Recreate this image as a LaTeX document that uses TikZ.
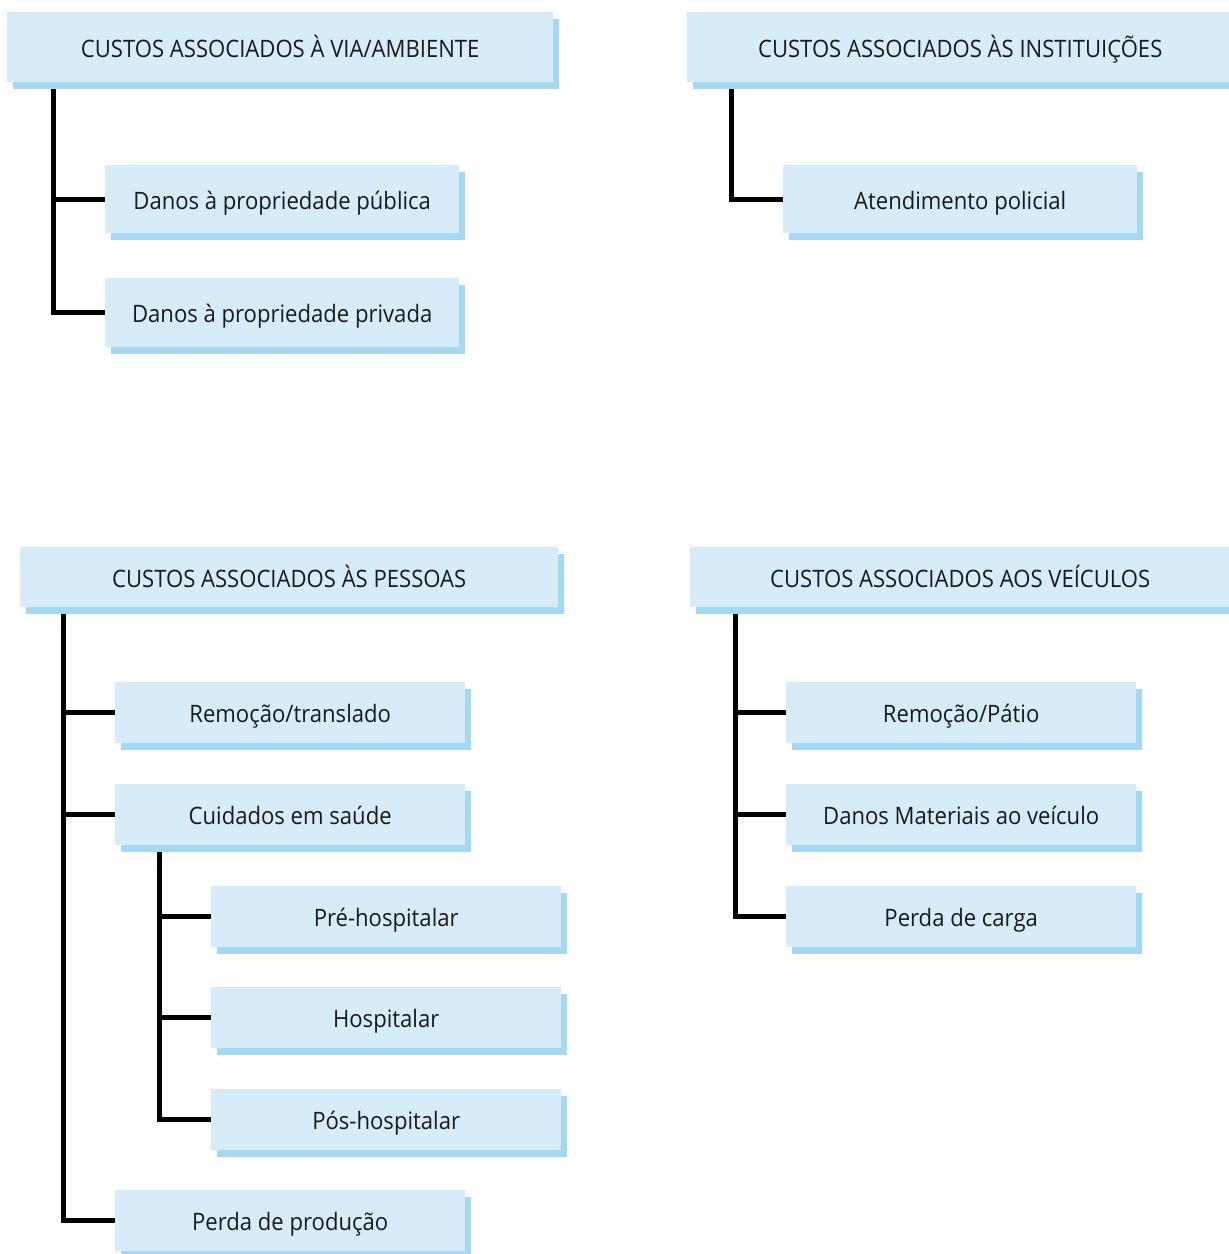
\documentclass[tikz,border=0pt]{standalone}
\usepackage{fontspec}
\setmainfont{Open Sans}[FakeStretch=0.92]
\usetikzlibrary{shadows}
\definecolor{boxfill}{HTML}{D6ECF9}
\definecolor{boxshadow}{HTML}{A4D8F3}
\definecolor{txt}{HTML}{1A1A1A}
\begin{document}
\begin{tikzpicture}[x=1pt,y=-1pt,
  cbox/.style={anchor=north west, fill=boxfill, inner sep=0pt, text=txt,
    font=\fontsize{24}{27}\selectfont, text height=20pt, text depth=0pt,
    drop shadow={shadow xshift=6pt, shadow yshift=-7pt, fill=boxshadow, opacity=1}},
  conn/.style={line width=5pt, draw=black}]
\useasboundingbox (0,0) rectangle (1229,1254);
% top left
\node[cbox, minimum width=546pt, minimum height=70pt] (h1) at (7,12) {CUSTOS ASSOCIADOS À VIA/AMBIENTE};
\node[cbox, minimum width=354pt, minimum height=68pt] (a1) at (105,165) {Danos à propriedade pública};
\node[cbox, minimum width=354pt, minimum height=69pt] (a2) at (105,278) {Danos à propriedade privada};
% top right
\node[cbox, minimum width=546pt, minimum height=70pt] (h2) at (687,12) {CUSTOS ASSOCIADOS ÀS INSTITUIÇÕES};
\node[cbox, minimum width=354pt, minimum height=68pt] (b1) at (783,165) {Atendimento policial};
% bottom left
\node[cbox, minimum width=538pt, minimum height=60pt] (h3) at (20,547) {CUSTOS ASSOCIADOS ÀS PESSOAS};
\node[cbox, minimum width=350pt, minimum height=61pt] (p1) at (115,682) {Remoção/translado};
\node[cbox, minimum width=350pt, minimum height=61pt] (p2) at (115,784) {Cuidados em saúde};
\node[cbox, minimum width=350pt, minimum height=61pt] (s1) at (211,886) {Pré-hospitalar};
\node[cbox, minimum width=350pt, minimum height=61pt] (s2) at (211,987) {Hospitalar};
\node[cbox, minimum width=350pt, minimum height=61pt] (s3) at (211,1089) {Pós-hospitalar};
\node[cbox, minimum width=350pt, minimum height=61pt] (p3) at (115,1190) {Perda de produção};
% bottom right
\node[cbox, minimum width=540pt, minimum height=60pt] (h4) at (690,547) {CUSTOS ASSOCIADOS AOS VEÍCULOS};
\node[cbox, minimum width=350pt, minimum height=61pt] (v1) at (786,682) {Remoção/Pátio};
\node[cbox, minimum width=350pt, minimum height=61pt] (v2) at (786,784) {Danos Materiais ao veículo};
\node[cbox, minimum width=350pt, minimum height=61pt] (v3) at (786,886) {Perda de carga};
% connectors
\coordinate (t1) at ([xshift=46pt,yshift=-7pt]h1.south west);
\draw[conn] (t1) |- (a1.west);
\draw[conn] (t1) |- (a2.west);
\coordinate (t2) at ([xshift=44pt,yshift=-7pt]h2.south west);
\draw[conn] (t2) |- (b1.west);
\coordinate (t3) at ([xshift=43pt,yshift=-7pt]h3.south west);
\draw[conn] (t3) |- (p1.west);
\draw[conn] (t3) |- (p2.west);
\draw[conn] (t3) |- (p3.west);
\coordinate (t4) at ([xshift=44pt,yshift=-7pt]p2.south west);
\draw[conn] (t4) |- (s1.west);
\draw[conn] (t4) |- (s2.west);
\draw[conn] (t4) |- (s3.west);
\coordinate (t5) at ([xshift=45pt,yshift=-7pt]h4.south west);
\draw[conn] (t5) |- (v1.west);
\draw[conn] (t5) |- (v2.west);
\draw[conn] (t5) |- (v3.west);
\end{tikzpicture}
\end{document}
